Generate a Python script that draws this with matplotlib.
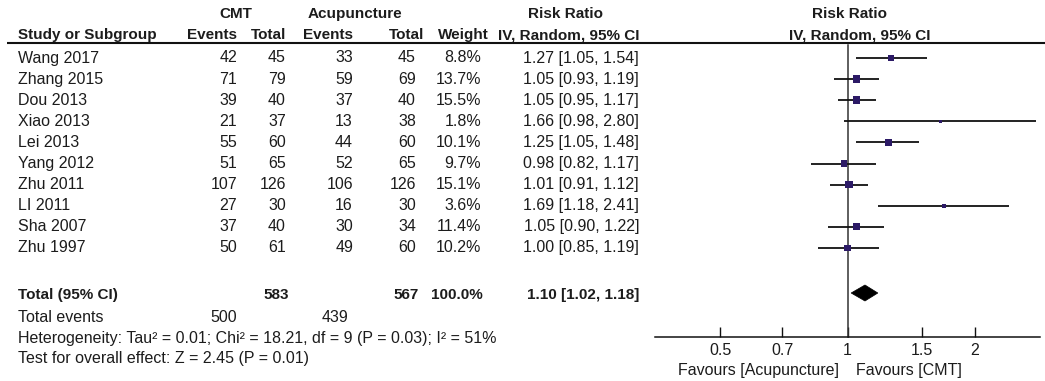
import numpy as np
import matplotlib
matplotlib.use("Agg")
import matplotlib.pyplot as plt
from matplotlib.patches import Polygon

plt.rcParams['font.family'] = ['Liberation Sans', 'DejaVu Sans']

# ---------------- data ----------------
studies = ["Wang 2017", "Zhang 2015", "Dou 2013", "Xiao 2013", "Lei 2013",
           "Yang 2012", "Zhu 2011", "LI 2011", "Sha 2007", "Zhu 1997"]
cmt_events = [42, 71, 39, 21, 55, 51, 107, 27, 37, 50]
cmt_total = [45, 79, 40, 37, 60, 65, 126, 30, 40, 61]
acu_events = [33, 59, 37, 13, 44, 52, 106, 16, 30, 49]
acu_total = [45, 69, 40, 38, 60, 65, 126, 30, 34, 60]
weights = [8.8, 13.7, 15.5, 1.8, 10.1, 9.7, 15.1, 3.6, 11.4, 10.2]
rr = [1.27, 1.05, 1.05, 1.66, 1.25, 0.98, 1.01, 1.69, 1.05, 1.00]
ci_low = [1.05, 0.93, 0.95, 0.98, 1.05, 0.82, 0.91, 1.18, 0.90, 0.85]
ci_high = [1.54, 1.19, 1.17, 2.80, 1.48, 1.17, 1.12, 2.41, 1.22, 1.19]

total_cmt = 583
total_acu = 567
total_weight = "100.0%"
total_cmt_events = 500
total_acu_events = 439
pooled_rr, pooled_low, pooled_high = 1.10, 1.02, 1.18
heterogeneity = "Heterogeneity: Tau\u00b2 = 0.01; Chi\u00b2 = 18.21, df = 9 (P = 0.03); I\u00b2 = 51%"
overall = "Test for overall effect: Z = 2.45 (P = 0.01)"
tick_vals = [0.5, 0.7, 1, 1.5, 2]
tick_labels = ["0.5", "0.7", "1", "1.5", "2"]
favours_left = "Favours [Acupuncture]"
favours_right = "Favours [CMT]"

# ---------------- layout ----------------
W, H = 1045, 381
fig = plt.figure(figsize=(W / 100, H / 100), dpi=100)
fig.patch.set_facecolor("white")

ax = fig.add_axes([0, 0, 1, 1])
ax.set_xlim(0, W)
ax.set_ylim(H, 0)
ax.axis("off")

TXT = "#1c1c1c"
FS = 11.5
FSB = 11
y0, dy = 58, 21.1
rows = [y0 + dy * i for i in range(len(studies))]
y_h1, y_h2 = 14, 35
y_line = 43
y_total, y_tev, y_het, y_test = 295, 318, 338, 358

x_name = 18
x_ce, x_ct, x_ae, x_at, x_w, x_ci = 237, 286, 353, 416, 481, 639

def t(x, y, s, ha="left", bold=False, **kw):
    ax.text(x, y, s, ha=ha, va="center", fontsize=FSB if bold else FS, color=TXT,
            fontweight="bold" if bold else "normal", **kw)

# headers
t(236, y_h1, "CMT", ha="center", bold=True)
t(355, y_h1, "Acupuncture", ha="center", bold=True)
t(565, y_h1, "Risk Ratio", ha="center", bold=True)
t(849, y_h1, "Risk Ratio", ha="center", bold=True)
t(x_name, y_h2, "Study or Subgroup", bold=True)
t(x_ce, y_h2, "Events", ha="right", bold=True)
t(x_ct, y_h2, "Total", ha="right", bold=True)
t(x_ae, y_h2, "Events", ha="right", bold=True)
t(424, y_h2, "Total", ha="right", bold=True)
t(489, y_h2, "Weight", ha="right", bold=True)
t(x_ci, y_h2, "IV, Random, 95% CI", ha="right", bold=True)
t(860, y_h2, "IV, Random, 95% CI", ha="center", bold=True)
ax.plot([7, W], [y_line, y_line], color="#111111", lw=1.5, solid_capstyle="butt")

for i, y in enumerate(rows):
    t(x_name, y, studies[i])
    t(x_ce, y, str(cmt_events[i]), ha="right")
    t(x_ct, y, str(cmt_total[i]), ha="right")
    t(x_ae, y, str(acu_events[i]), ha="right")
    t(x_at, y, str(acu_total[i]), ha="right")
    t(x_w, y, f"{weights[i]:.1f}%", ha="right")
    t(x_ci, y, f"{rr[i]:.2f} [{ci_low[i]:.2f}, {ci_high[i]:.2f}]", ha="right")

t(x_name, y_total, "Total (95% CI)", bold=True)
t(289, y_total, str(total_cmt), ha="right", bold=True)
t(419, y_total, str(total_acu), ha="right", bold=True)
t(483, y_total, total_weight, ha="right", bold=True)
t(x_ci, y_total, f"{pooled_rr:.2f} [{pooled_low:.2f}, {pooled_high:.2f}]", ha="right", bold=True)
t(x_name, y_tev, "Total events")
t(x_ce, y_tev, str(total_cmt_events), ha="right")
t(348, y_tev, str(total_acu_events), ha="right")
t(x_name, y_het, heterogeneity)
t(x_name, y_test, overall)

# ---------------- forest axes ----------------
x_left, x_right = 655, 1040
fax = fig.add_axes([x_left / W, 0, (x_right - x_left) / W, 1])
fax.set_facecolor("none")
fax.set_xscale("log")
fax.set_xlim(0.35, 1 / 0.35)
fax.set_ylim(H, 0)
for s in ["top", "left", "right"]:
    fax.spines[s].set_visible(False)
y_axis = 337
fax.spines["bottom"].set_position(("data", y_axis))
fax.spines["bottom"].set_color("#111111")
fax.spines["bottom"].set_linewidth(1.1)
fax.set_yticks([])
fax.xaxis.set_minor_locator(matplotlib.ticker.NullLocator())
fax.set_xticks(tick_vals)
fax.set_xticklabels(tick_labels)
fax.tick_params(axis="x", direction="in", length=7, width=1.0, color="#111111",
                labelsize=FS, labelcolor=TXT, pad=4)

# line of no effect
fax.plot([1, 1], [45, y_axis], color="#333333", lw=1.1)

MARK = "#2c1a66"
for i, y in enumerate(rows):
    fax.plot([ci_low[i], ci_high[i]], [y, y], color="#111111", lw=1.3,
             solid_capstyle="butt")
    side_px = 2.0 * np.sqrt(weights[i])
    fax.scatter([rr[i]], [y], marker="s", s=(side_px * 0.72) ** 2,
                color=MARK, edgecolors="none", zorder=3)

half_h = 8
diamond = Polygon([[pooled_low, y_total - 2], [pooled_rr, y_total - 2 - half_h],
                   [pooled_high, y_total - 2], [pooled_rr, y_total - 2 + half_h]],
                  closed=True, facecolor="black", edgecolor="black", lw=0.5)
fax.add_patch(diamond)

fax.text(0.955, 370, favours_left, ha="right", va="center", fontsize=FS, color=TXT)
fax.text(1.045, 370, favours_right, ha="left", va="center", fontsize=FS, color=TXT)

fig.savefig("out.png", dpi=100, facecolor="white")
